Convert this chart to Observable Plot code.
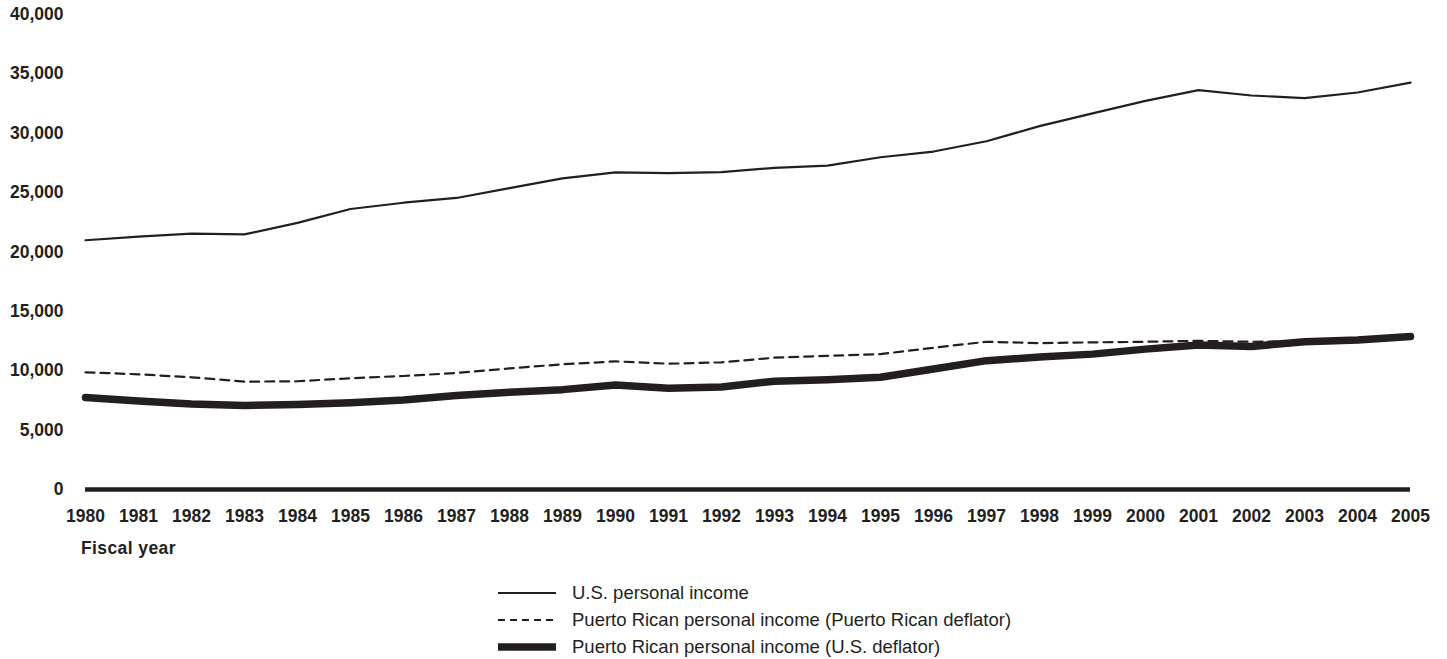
<!DOCTYPE html>
<html>
<head>
<meta charset="utf-8">
<script src="https://cdn.jsdelivr.net/npm/d3@7"></script>
<script src="https://cdn.jsdelivr.net/npm/@observablehq/plot@0.6"></script>
<style>
  html, body { margin: 0; padding: 0; background: #fff; }
  body { width: 1447px; height: 659px; position: relative; overflow: hidden; font-family: "Liberation Sans", Arial, sans-serif; color: #231f20; }
  #xlabel { position: absolute; left: 81px; top: 537px; font-size: 17.5px; letter-spacing: 0.4px; font-weight: bold; line-height: 22px; }
  #legend { position: absolute; left: 498px; top: 579px; }
  .row { height: 27px; display: flex; align-items: center; font-size: 18.5px; }
  .row svg { margin-right: 16px; }
</style>
</head>
<body>
<div id="chart"></div>
<div id="xlabel">Fiscal year</div>
<div id="legend"></div>
<script>
const years = [1980,1981,1982,1983,1984,1985,1986,1987,1988,1989,1990,1991,1992,1993,1994,1995,1996,1997,1998,1999,2000,2001,2002,2003,2004,2005];
const usIncome = [20990,21300,21550,21490,22450,23620,24150,24550,25380,26200,26700,26640,26720,27090,27280,27980,28460,29330,30600,31670,32730,33630,33180,32960,33430,34270];
const prIncomePRDeflator = [9870,9700,9450,9080,9115,9370,9560,9810,10200,10540,10790,10590,10710,11100,11260,11400,11940,12440,12330,12390,12440,12520,12440,12500,12600,12900];
const prIncomeUSDeflator = [7740,7460,7210,7070,7160,7300,7530,7910,8190,8410,8800,8530,8640,9120,9250,9450,10150,10850,11150,11400,11820,12160,12050,12440,12580,12890];
const yTicks = [0,5000,10000,15000,20000,25000,30000,35000,40000];
const seriesNames = ["U.S. personal income","Puerto Rican personal income (Puerto Rican deflator)","Puerto Rican personal income (U.S. deflator)"];

const ink = "#231f20";
const rows = years.map((year, i) => ({year, us: usIncome[i], prpr: prIncomePRDeflator[i], prus: prIncomeUSDeflator[i]}));

const chart = Plot.plot({
  width: 1447,
  height: 535,
  marginLeft: 85,
  marginRight: 37,
  marginTop: 14,
  marginBottom: 46,
  style: {fontFamily: "'Liberation Sans', Arial, sans-serif", fontSize: "17.5px", fontWeight: "bold", color: ink, background: "white"},
  x: {domain: [1980, 2005], ticks: years, tickFormat: d => String(d), tickSize: 0, tickPadding: 20, label: null},
  y: {domain: [0, 40000], ticks: yTicks, tickFormat: d3.format(","), tickSize: 0, tickPadding: 22, label: null},
  marks: [
    Plot.ruleY([0], {stroke: ink, strokeWidth: 4.5}),
    Plot.line(rows, {x: "year", y: "us", stroke: ink, strokeWidth: 2.2}),
    Plot.line(rows, {x: "year", y: "prpr", stroke: ink, strokeWidth: 2.2, strokeDasharray: "9,6"}),
    Plot.line(rows, {x: "year", y: "prus", stroke: ink, strokeWidth: 7.5})
  ]
});
document.getElementById("chart").appendChild(chart);

const styles = [{w: 2.2, dash: null}, {w: 2.2, dash: "7,5"}, {w: 7.5, dash: null}];
const legend = d3.select("#legend");
seriesNames.forEach((name, i) => {
  const row = legend.append("div").attr("class", "row");
  const s = row.append("svg").attr("width", 58).attr("height", 12);
  s.append("line").attr("x1", 0).attr("x2", 58).attr("y1", 6).attr("y2", 6)
    .attr("stroke", ink).attr("stroke-width", styles[i].w)
    .attr("stroke-dasharray", styles[i].dash);
  row.append("span").text(name);
});
</script>
</body>
</html>
